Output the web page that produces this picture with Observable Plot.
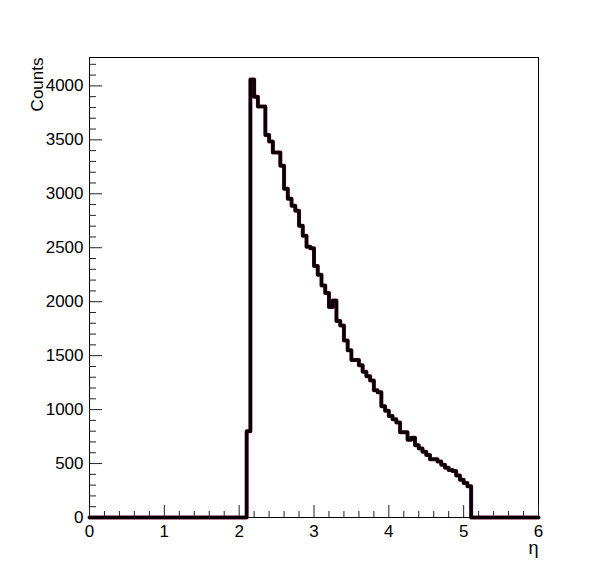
<!DOCTYPE html>
<html>
<head>
<meta charset="utf-8">
<script src="https://cdn.jsdelivr.net/npm/d3@7"></script>
<script src="https://cdn.jsdelivr.net/npm/@observablehq/plot@0.6"></script>
<style>
  html, body { margin: 0; padding: 0; background: #fff; }
  #chart svg { display: block; }
</style>
</head>
<body>
<div id="chart"></div>
<script>
// Histogram: 120 bins of width 0.05 on [0, 6]; non-empty bins start at 2.10
const binWidth = 0.05;
const firstEdge = 2.10;
const counts = [
  800, 4060, 3900, 3810, 3810, 3545, 3485, 3382, 3382, 3260,
  3046, 2953, 2890, 2843, 2704, 2610, 2510, 2495, 2330, 2250,
  2150, 2080, 1950, 2010, 1820, 1780, 1640, 1550, 1460, 1460,
  1410, 1350, 1310, 1270, 1180, 1160, 1030, 990, 940, 910,
  880, 790, 790, 720, 740, 670, 640, 610, 580, 540,
  540, 520, 490, 460, 440, 430, 390, 350, 320, 290
];
const xMajor = [0, 1, 2, 3, 4, 5, 6];
const yMajor = [0, 500, 1000, 1500, 2000, 2500, 3000, 3500, 4000];

const xMinor = d3.range(0, 31).map(i => i * 0.2).filter(v => Math.abs(v - Math.round(v)) > 1e-6);
const yMinor = d3.range(0, 43).map(i => i * 100).filter(v => v % 500 !== 0);

const pts = [{x: 0, y: 0}, {x: firstEdge, y: 0}];
counts.forEach((c, i) => pts.push({x: firstEdge + i * binWidth, y: c}));
pts.push({x: firstEdge + counts.length * binWidth, y: 0});
pts.push({x: 6, y: 0});

const chart = Plot.plot({
  width: 598,
  height: 575,
  marginLeft: 89,
  marginRight: 60,
  marginTop: 57,
  marginBottom: 58,
  style: {fontFamily: "'Liberation Sans', Arial, sans-serif", fontSize: "17px", color: "#000", background: "#fff"},
  x: {domain: [0, 6]},
  y: {domain: [0, 4263]},
  marks: [
    Plot.frame({stroke: "#000", strokeWidth: 1}),
    Plot.axisX({ticks: xMajor, tickSize: -12, text: null, label: null, stroke: "#222"}),
    Plot.axisX({ticks: xMinor, tickSize: -6, text: null, label: null, stroke: "#222"}),
    Plot.axisX({ticks: xMajor, tickSize: 0, tickPadding: 7, tickFormat: d3.format("d"), label: null, fontSize: 17}),
    Plot.axisY({ticks: yMajor, tickSize: -13, text: null, label: null, stroke: "#222"}),
    Plot.axisY({ticks: yMinor, tickSize: -7, text: null, label: null, stroke: "#222"}),
    Plot.axisY({ticks: yMajor, tickSize: 0, tickPadding: 6, tickFormat: d3.format("d"), label: null, fontSize: 17}),
    Plot.line(pts, {x: "x", y: "y", curve: "step-after", stroke: "#6a0035", strokeWidth: 4}),
    Plot.line(pts, {x: "x", y: "y", curve: "step-after", stroke: "#000", strokeWidth: 3}),
    Plot.text(["Counts"], {frameAnchor: "top-left", dx: -52, rotate: -90, textAnchor: "end", lineAnchor: "middle", fontSize: 17}),
    Plot.text(["η"], {frameAnchor: "bottom-right", dy: 31, textAnchor: "end", lineAnchor: "middle", fontSize: 18})
  ]
});
document.getElementById("chart").appendChild(chart);
</script>
</body>
</html>
